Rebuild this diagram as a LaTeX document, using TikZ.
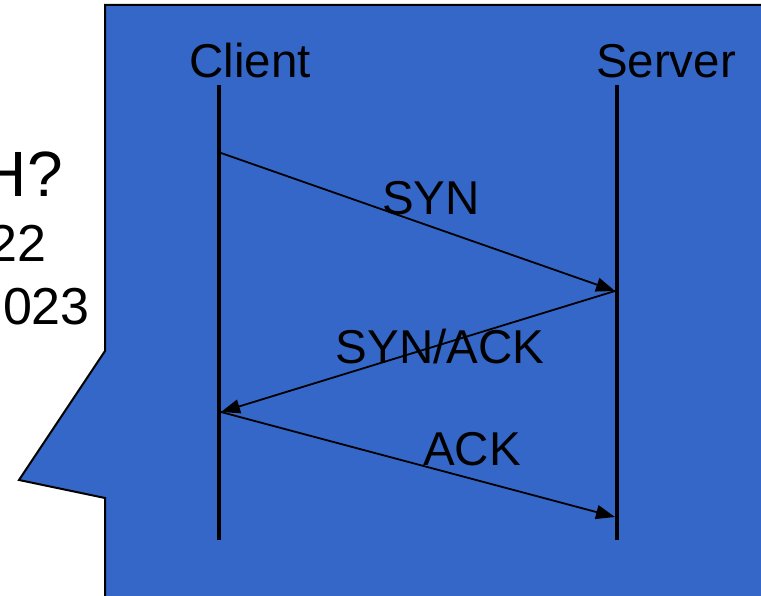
\documentclass[tikz,border=0pt]{standalone}
\usepackage{fontspec}
\setmainfont{Liberation Sans}
\usetikzlibrary{arrows.meta}

\definecolor{calloutblue}{RGB}{53,103,200}

\tikzset{
  lbl/.style={inner sep=0pt,anchor=base,font=\fontsize{47.5}{57}\selectfont},
  side/.style={inner sep=0pt,anchor=base east,font=\fontsize{52}{62}\selectfont},
  lifeline/.style={line width=4pt},
  msg/.style={line width=1.8pt,-{Triangle[length=19pt,width=14pt]}}
}

\begin{document}
\begin{tikzpicture}[x=1pt,y=-1pt]
    \useasboundingbox (0,0) rectangle (761,596);
    \clip (0,0) rectangle (761,596);
    % text behind the callout
    \node[side,font=\fontsize{64}{76}\selectfont] (q) at (63,197) {H?};
    \node[side] (pa) at (47,262) {22};
    \node[side] (pb) at (90,325) {023};
    % callout
    \draw[line width=2pt,fill=calloutblue,line join=miter]
      (105,5)--(775,5)--(775,605)--(105,605)--(105,498)--(19,480)--(105,351)--cycle;
    % lifelines
    \coordinate (ctop) at (219,85);
    \coordinate (cbot) at (219,540);
    \coordinate (stop) at (617,85);
    \coordinate (sbot) at (617,540);
    \draw[lifeline] (ctop)--(cbot);
    \draw[lifeline] (stop)--(sbot);
    \node[lbl] (client) at (250,78) {Client};
    \node[lbl] (server) at (666,78) {Server};
    % messages
    \coordinate (c1) at (221,153);
    \coordinate (s1) at (615,291);
    \coordinate (c2) at (221,412);
    \coordinate (s2) at (615,517);
    \draw[msg] (c1)--(s1);
    \draw[msg] (s1)--(c2);
    \draw[msg] (c2)--(s2);
    \node[lbl] (syn) at (431,215) {SYN};
    \node[lbl] (synack) at (440,363) {SYN/ACK};
    \node[lbl] (ack) at (472,465) {ACK};
\end{tikzpicture}
\end{document}
